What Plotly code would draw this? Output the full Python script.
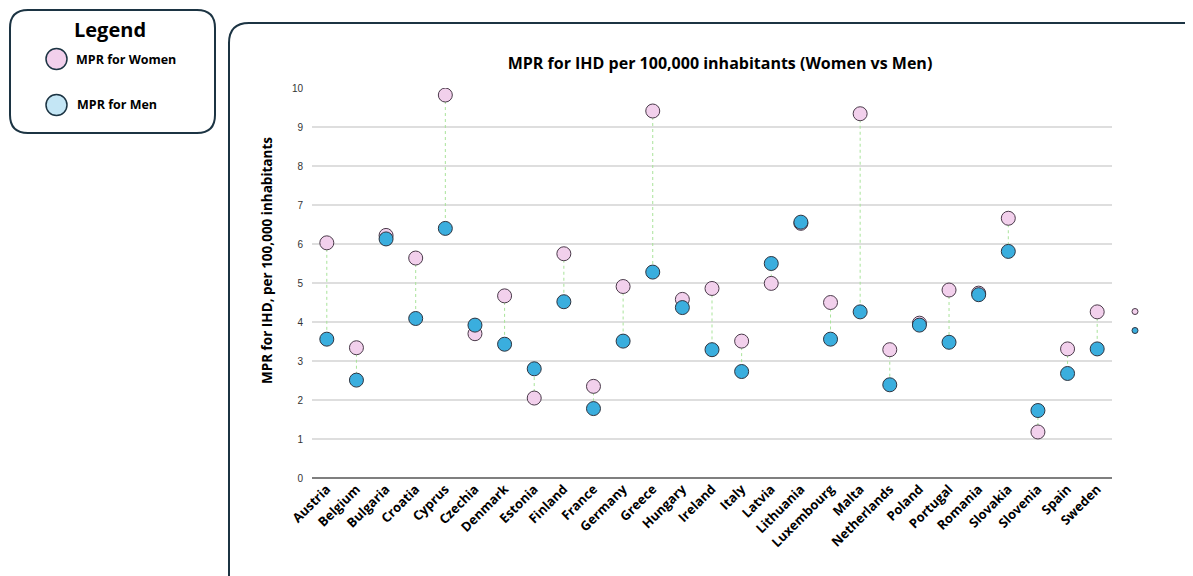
import plotly.graph_objects as go

countries = ["Austria", "Belgium", "Bulgaria", "Croatia", "Cyprus", "Czechia", "Denmark",
             "Estonia", "Finland", "France", "Germany", "Greece", "Hungary", "Ireland",
             "Italy", "Latvia", "Lithuania", "Luxembourg", "Malta", "Netherlands", "Poland",
             "Portugal", "Romania", "Slovakia", "Slovenia", "Spain", "Sweden"]
women = [6.03, 3.34, 6.22, 5.64, 9.82, 3.70, 4.67, 2.05, 5.75, 2.35, 4.91, 9.41, 4.58, 4.86,
         3.51, 4.99, 6.53, 4.50, 9.34, 3.29, 3.97, 4.82, 4.74, 6.66, 1.18, 3.31, 4.26]
men = [3.56, 2.51, 6.13, 4.09, 6.40, 3.92, 3.43, 2.80, 4.52, 1.78, 3.51, 5.28, 4.37, 3.29,
       2.73, 5.50, 6.56, 3.56, 4.26, 2.39, 3.92, 3.48, 4.70, 5.81, 1.73, 2.68, 3.31]
y_ticks = [0, 1, 2, 3, 4, 5, 6, 7, 8, 9, 10]

PINK = "#f2d0ec"
BLUE = "#3aaede"
EDGE = "#2e3440"
PEDGE = "#4a3a4a"
NAVY = "#1c3443"

OFF = 8  # page body margin
W, H = 1193 - OFF, 576 - OFF
# plot area in page pixels
L, R, T, B = 312, 1112, 88, 478


def px(x):
    return (x - L) / (R - L)


def py(y):
    return (B - y) / (B - T)


fig = go.Figure()

# connector lines
lx, ly = [], []
for c, w, m in zip(countries, women, men):
    lx += [c, c, None]
    ly += [w, m, None]
fig.add_trace(go.Scatter(x=lx, y=ly, mode="lines", showlegend=False, hoverinfo="skip",
                         line=dict(color="#a9e39a", width=1, dash="dot")))

fig.add_trace(go.Scatter(x=countries, y=women, mode="markers", name="MPR for Women", showlegend=False,
                         marker=dict(size=14, color=PINK, line=dict(color=PEDGE, width=1))))
fig.add_trace(go.Scatter(x=countries, y=men, mode="markers", name="MPR for Men", showlegend=False,
                         marker=dict(size=14, color=BLUE, line=dict(color=EDGE, width=1))))

# small legend glyphs on the right (no text)
fig.add_trace(go.Scatter(x=[None], y=[None], mode="markers", name=" ",
                         marker=dict(size=6, color=PINK, line=dict(color=PEDGE, width=1))))
fig.add_trace(go.Scatter(x=[None], y=[None], mode="markers", name="  ",
                         marker=dict(size=6, color=BLUE, line=dict(color=EDGE, width=1))))

shapes = []
# outer rounded panel
r = 20
x0, y0, x1, y1 = 229, 23, 1215, 600
shapes.append(dict(type="path", xref="paper", yref="paper",
                   path=(f"M {px(x0)},{py(y1)} L {px(x0)},{py(y0 + r)} "
                         f"Q {px(x0)},{py(y0)} {px(x0 + r)},{py(y0)} "
                         f"L {px(x1)},{py(y0)}"),
                   line=dict(color=NAVY, width=2)))
# legend box
lx0, ly0, lx1, ly1 = 10, 10, 215, 133
r = 18
shapes.append(dict(type="path", xref="paper", yref="paper",
                   path=(f"M {px(lx0 + r)},{py(ly0)} L {px(lx1 - r)},{py(ly0)} "
                         f"Q {px(lx1)},{py(ly0)} {px(lx1)},{py(ly0 + r)} "
                         f"L {px(lx1)},{py(ly1 - r)} Q {px(lx1)},{py(ly1)} {px(lx1 - r)},{py(ly1)} "
                         f"L {px(lx0 + r)},{py(ly1)} Q {px(lx0)},{py(ly1)} {px(lx0)},{py(ly1 - r)} "
                         f"L {px(lx0)},{py(ly0 + r)} Q {px(lx0)},{py(ly0)} {px(lx0 + r)},{py(ly0)} Z"),
                   line=dict(color=NAVY, width=2), fillcolor="white"))
for cy, col in [(59, PINK), (105, "#c4e6f5")]:
    shapes.append(dict(type="circle", xref="paper", yref="paper",
                       x0=px(46), x1=px(67), y0=py(cy + 10.5), y1=py(cy - 10.5),
                       line=dict(color=NAVY, width=1.5), fillcolor=col))

annotations = [
    dict(text="<b>Legend</b>", xref="paper", yref="paper", x=px(110), y=py(29),
         xanchor="center", yanchor="middle", showarrow=False,
         font=dict(family="Open Sans", size=20, color="black")),
    dict(text="<b>MPR for Women</b>", xref="paper", yref="paper", x=px(74), y=py(59),
         xanchor="left", yanchor="middle", showarrow=False,
         font=dict(family="Open Sans", size=12.5, color="black")),
    dict(text="<b>MPR for Men</b>", xref="paper", yref="paper", x=px(75), y=py(105),
         xanchor="left", yanchor="middle", showarrow=False,
         font=dict(family="Open Sans", size=12.5, color="black")),
    dict(text="<b>MPR for IHD, per 100,000 inhabitants</b>", xref="paper", yref="paper",
         x=px(267), y=py(261), xanchor="center", yanchor="middle", textangle=-90, showarrow=False,
         font=dict(family="Open Sans", size=13.5, color="black")),
]

fig.update_layout(
    width=W, height=H,
    margin=dict(l=L - OFF, r=W - (R - OFF), t=T - OFF, b=H - (B - OFF)),
    paper_bgcolor="white", plot_bgcolor="white",
    title=dict(text="<b>MPR for IHD per 100,000 inhabitants (Women vs Men)</b>",
               xref="paper", x=px(720), xanchor="center", y=1 - (63 - OFF) / H, yanchor="middle",
               font=dict(family="Open Sans", size=16, color="black")),
    xaxis=dict(tickangle=-45, showgrid=False, zeroline=False, showline=False,
               tickfont=dict(family="Open Sans", size=13, color="black", weight="bold"),
               ticks="", range=[-0.5, len(countries) - 0.5]),
    yaxis=dict(range=[0, 10], tickvals=y_ticks, showgrid=True, gridcolor="#dedede", gridwidth=1.5,
               zeroline=True, zerolinecolor="#7f7f7f", zerolinewidth=2,
               tickfont=dict(family="Liberation Sans", size=10, color="#333333"),
               ticks="", ticklabelstandoff=8),
    showlegend=True,
    legend=dict(x=1.0, xanchor="left", y=py(297), yanchor="top", bgcolor="rgba(0,0,0,0)",
                font=dict(size=11), tracegroupgap=0, itemwidth=30, xref="paper"),
    shapes=shapes,
    annotations=annotations,
)
fig.update_layout(legend_x=px(1115))

fig.write_html("out.html")
